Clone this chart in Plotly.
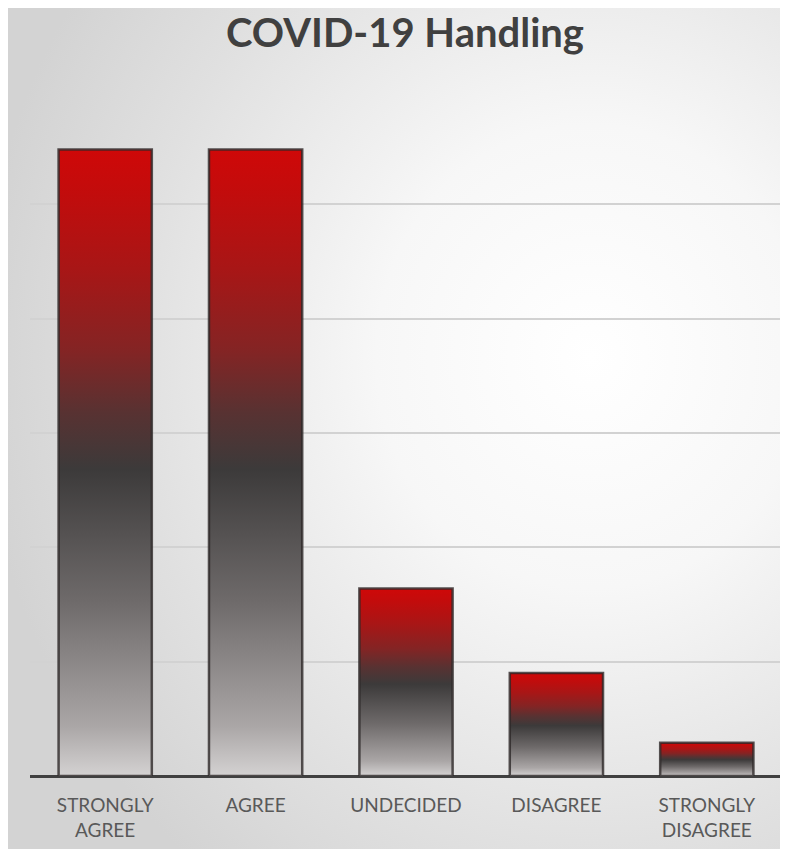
import base64
import plotly.graph_objects as go

categories = ["STRONGLY<br>AGREE", "AGREE", "UNDECIDED", "DISAGREE", "STRONGLY<br>DISAGREE"]
values = [5.48, 5.48, 1.64, 0.90, 0.29]
grid_ticks = [0, 1, 2, 3, 4, 5, 6]

bar_half = 0.31
bar_scale = [
    [0.0, "#d4d2d2"],
    [0.08, "#aaa6a6"],
    [0.28, "#6e6a6a"],
    [0.49, "#3c3a3a"],
    [0.58, "#583232"],
    [0.68, "#842424"],
    [0.81, "#a81616"],
    [0.93, "#c20c0c"],
    [1.0, "#cf0808"],
]

fig = go.Figure()
for i, v in enumerate(values):
    xs = [i - bar_half, i - bar_half, i + bar_half, i + bar_half, i - bar_half]
    ys = [0, v, v, 0, 0]
    fig.add_trace(go.Scatter(
        x=xs, y=ys, mode="lines", fill="toself",
        fillgradient=dict(type="vertical", colorscale=bar_scale),
        line=dict(color="rgba(45,40,40,0.8)", width=2.5),
        hoverinfo="skip", showlegend=False,
    ))

# page body has an 8px margin, so the figure is 8px smaller than the window
W, H = 780, 841
ml, mr, mt, mb = 22, 6, 82, 73
pw, ph = W - ml - mr, H - mt - mb

svg = """<svg xmlns='http://www.w3.org/2000/svg' width='788' height='849'>
<defs><radialGradient id='g' cx='0.75' cy='0.42' r='0.78'>
<stop offset='0' stop-color='#ffffff'/>
<stop offset='0.35' stop-color='#f7f7f7'/>
<stop offset='0.75' stop-color='#e0e0e0'/>
<stop offset='1' stop-color='#d3d3d3'/>
</radialGradient></defs>
<rect width='788' height='849' fill='url(#g)'/></svg>"""
src = "data:image/svg+xml;base64," + base64.b64encode(svg.encode()).decode()

fig.update_layout(
    width=W, height=H,
    margin=dict(l=ml, r=mr, t=mt, b=mb),
    paper_bgcolor="#e3e3e3",
    plot_bgcolor="rgba(0,0,0,0)",
    title=dict(text="<b>COVID-19 Handling</b>", x=(405 - 8) / W, xanchor="center", y=1 - 25 / H, yanchor="middle",
               font=dict(family="Lato", size=40, color="#404040")),
    images=[dict(source=src, xref="paper", yref="paper",
                 x=-(ml + 8) / pw, y=1 + (mt + 8) / ph, sizex=(W + 8) / pw, sizey=(H + 8) / ph,
                 xanchor="left", yanchor="top", sizing="stretch", layer="below")],
    xaxis=dict(range=[-0.5, 4.5], tickmode="array", tickvals=list(range(len(categories))),
               ticktext=categories, showgrid=False, zeroline=False, showline=False,
               tickfont=dict(family="Lato", size=19, color="#595959"),
               ticks="outside", ticklen=12, tickcolor="rgba(0,0,0,0)"),
    yaxis=dict(range=[0, 6], tickmode="array", tickvals=grid_ticks, showticklabels=False,
               showgrid=True, gridcolor="#d2d2d2", gridwidth=1.5,
               zeroline=True, zerolinecolor="#404040", zerolinewidth=2.5, showline=False),
)

fig.write_html("out.html")
